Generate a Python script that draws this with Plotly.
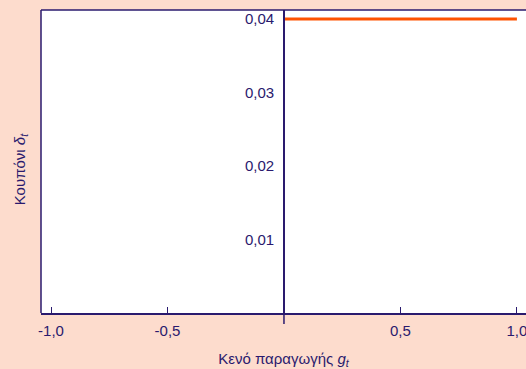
import plotly.graph_objects as go

# Coupon rate as a function of the output gap (positive-gap branch)
gap_values = [0.0, 1.0]
coupon_values = [0.04, 0.04]

x_tick_vals = [-1.0, -0.5, 0.5, 1.0]
x_tick_text = ["-1,0", "-0,5", "0,5", "1,0"]
y_tick_vals = [0.01, 0.02, 0.03, 0.04]
y_tick_text = ["0,01", "0,02", "0,03", "0,04"]

INK = "#2a1a6e"
BG = "#fddccd"
LINE = "#ff5200"
FONT = "Liberation Sans, Arial, sans-serif"
FS = 15

x_range = [-1.043, 1.039]
y_range = [0.0, 0.04122]
y_axis_pos = (0 - x_range[0]) / (x_range[1] - x_range[0])
plot_h = 369 - 10 - 56

fig = go.Figure()
fig.add_trace(go.Scatter(
    x=gap_values, y=coupon_values, mode="lines",
    line=dict(color=LINE, width=3), showlegend=False, hoverinfo="skip",
))

fig.update_layout(
    width=526, height=369,
    margin=dict(l=41, r=0, t=10, b=56),
    paper_bgcolor=BG, plot_bgcolor="white",
    font=dict(family=FONT, size=FS, color=INK),
    xaxis=dict(
        range=x_range, domain=[0, 1],
        tickvals=x_tick_vals, ticktext=x_tick_text,
        ticks="inside", ticklen=6, tickwidth=1, tickcolor=INK,
        ticklabelstandoff=3, ticklabeloverflow="allow",
        tickfont=dict(size=FS, color=INK),
        showgrid=False, zeroline=False,
        showline=True, linecolor=INK, linewidth=1.5,
        title=dict(text="Κενό παραγωγής <i>g<sub>t</sub></i>", standoff=17,
                   font=dict(size=FS, color=INK)),
    ),
    yaxis=dict(
        range=y_range, anchor="free", position=y_axis_pos,
        tickvals=y_tick_vals, ticktext=y_tick_text,
        ticks="", ticklabelstandoff=6,
        tickfont=dict(size=FS, color=INK),
        showgrid=False, zeroline=False,
        showline=True, linecolor=INK, linewidth=1.5,
    ),
)

# Frame on the left and top edges of the plotting area
fig.add_shape(type="line", xref="paper", yref="paper", x0=0, x1=0, y0=0, y1=1,
              line=dict(color=INK, width=1.5))
fig.add_shape(type="line", xref="paper", yref="paper", x0=0, x1=1, y0=1, y1=1,
              line=dict(color=INK, width=1.5))
# Vertical axis extends slightly below the horizontal axis
fig.add_shape(type="line", xref="x", yref="paper",
              x0=0, x1=0, y0=0, y1=-11 / plot_h, line=dict(color=INK, width=1.5))

# Vertical axis title
fig.add_annotation(
    text="Κουπόνι <i>δ<sub>t</sub></i>", xref="paper", yref="paper",
    x=-0.043, y=0.475, textangle=-90, showarrow=False,
    xanchor="center", yanchor="middle", font=dict(size=FS, color=INK),
)

fig.write_html("out.html")
